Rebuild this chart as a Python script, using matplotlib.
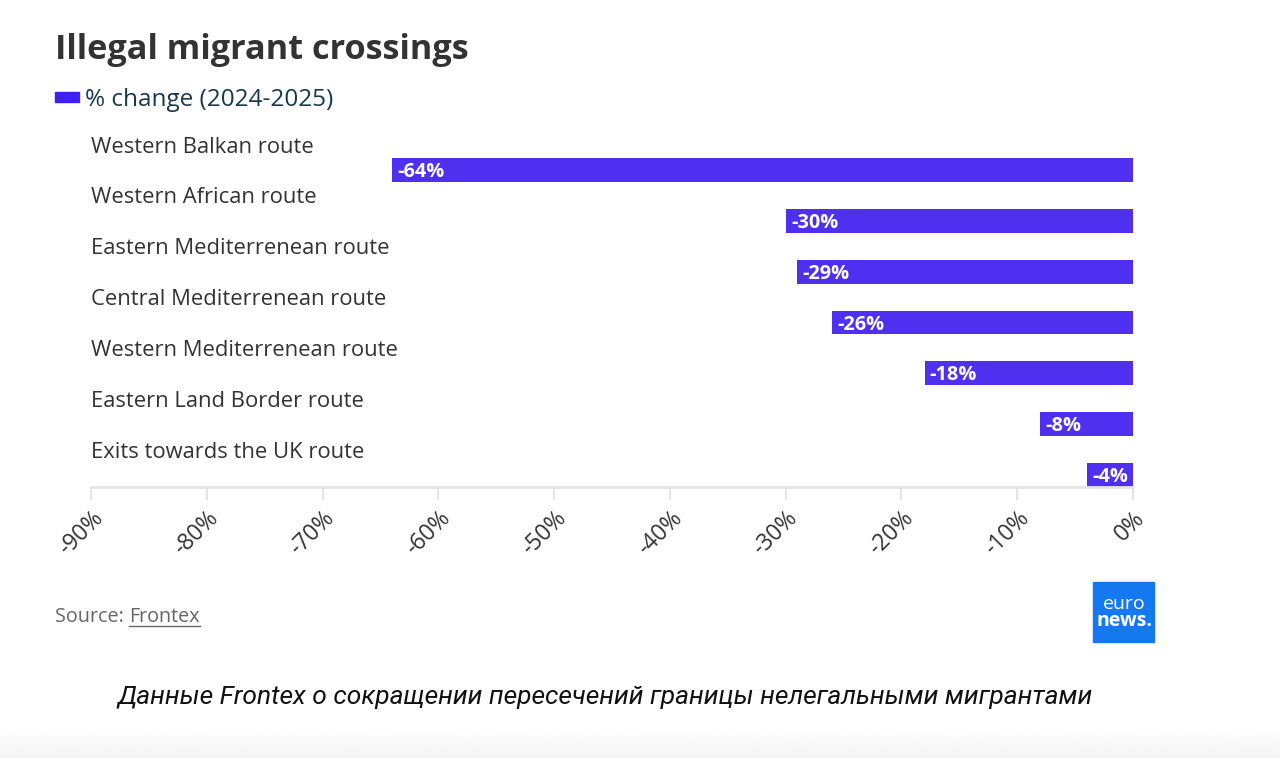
import numpy as np
import matplotlib.pyplot as plt
from matplotlib.patches import Rectangle
from matplotlib.ticker import FixedLocator

routes = ['Western Balkan route', 'Western African route', 'Eastern Mediterrenean route',
          'Central Mediterrenean route', 'Western Mediterrenean route',
          'Eastern Land Border route', 'Exits towards the UK route']
change = [-64, -30, -29, -26, -18, -8, -4]
ticks = [-90, -80, -70, -60, -50, -40, -30, -20, -10, 0]
tick_labels = ['-90%', '-80%', '-70%', '-60%', '-50%', '-40%', '-30%', '-20%', '-10%', '0%']

BAR = '#4f2ff0'
W, H = 1280, 758
plt.rcParams['font.family'] = ['Open Sans', 'DejaVu Sans']

fig = plt.figure(figsize=(W / 100, H / 100), dpi=100)
fig.patch.set_facecolor('white')

# faint grey fade at the bottom edge
bg = fig.add_axes([0, 0, 1, 30 / H])
bg.imshow(np.linspace(1.0, 0.955, 50).reshape(-1, 1), cmap='gray', vmin=0, vmax=1,
          aspect='auto', extent=[0, 1, 0, 1])
bg.axis('off')

ax = fig.add_axes([91 / W, 1 - 487 / H, (1133 - 91) / W, (487 - 131) / H])

ypos = list(range(len(routes)))
ax.barh(ypos, change, height=0.47, color=BAR, zorder=2)
for y, name, v in zip(ypos, routes, change):
    ax.text(-90, y - 0.45, name, ha='left', va='center', fontsize=15.8, color='#333333')
    ax.text(v + 0.45, y + 0.04, f'{v}%', ha='left', va='center', fontsize=14.3,
            fontweight='bold', color='white', zorder=3)

ax.set_xlim(-90, 0)
ax.set_ylim(6 + 12 / 51, -0.765)
ax.xaxis.set_major_locator(FixedLocator(ticks))
ax.set_xticklabels(tick_labels, rotation=45, ha='right', va='top',
                   rotation_mode='anchor', fontsize=16.5, color='#333333')
ax.tick_params(axis='x', length=9, width=1.5, color='#e4e4e4', pad=5)
ax.set_yticks([])
for s in ['top', 'right', 'left']:
    ax.spines[s].set_visible(False)
ax.spines['bottom'].set_color('#e4e4e4')
ax.spines['bottom'].set_linewidth(2)
ax.set_facecolor('none')

# title and legend
fig.text(55 / W, 1 - 50 / H, 'Illegal migrant crossings', fontsize=24.7, fontweight='bold',
         color='#333333', ha='left', va='center')
fig.patches.append(Rectangle((55 / W, 1 - 102 / H), 24 / W, 10 / H, transform=fig.transFigure,
                             color='#3f1ff0'))
fig.text(85 / W, 1 - 100 / H, '% change (2024-2025)', fontsize=17.5, color='#17394a',
         ha='left', va='center')

# source with underlined link
t1 = fig.text(55 / W, 1 - 617 / H, 'Source: ', fontsize=14.2, color='#666666',
              ha='left', va='center')
fig.canvas.draw()
bb = t1.get_window_extent()
t2 = fig.text(bb.x1 / W, 1 - 617 / H, 'Frontex', fontsize=14.2, color='#666666',
              ha='left', va='center')
fig.canvas.draw()
bb2 = t2.get_window_extent()
fig.add_artist(plt.Line2D([bb2.x0 / W, bb2.x1 / W], [(bb2.y0 + 1) / H] * 2,
                          transform=fig.transFigure, color='#666666', lw=1))

# logo
fig.patches.append(Rectangle((1093 / W, 1 - 642 / H), 61 / W, 60 / H, transform=fig.transFigure,
                             color='#1479f0'))
fig.text(1124 / W, 1 - 604 / H, 'euro', fontsize=14, color='white', ha='center', va='center')
fig.text(1125 / W, 1 - 621 / H, 'news.', fontsize=14, color='white', fontweight='bold',
         ha='center', va='center')

# caption
fig.text(605 / W, 1 - 697 / H, 'Данные Frontex о сокращении пересечений границы нелегальными мигрантами',
         fontsize=19, style='italic', family=['Roboto', 'DejaVu Sans'], color='#111111',
         ha='center', va='center')

fig.savefig('out.png', dpi=100)
